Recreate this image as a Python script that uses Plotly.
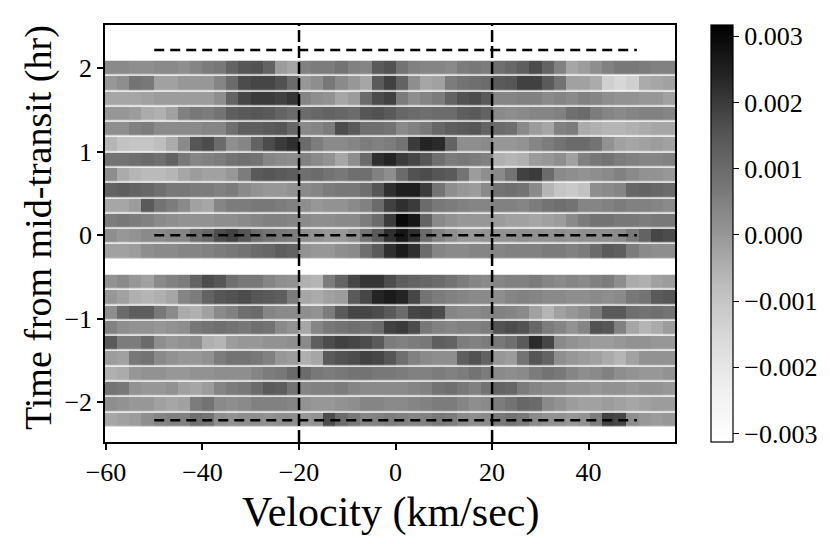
import numpy as np
import plotly.graph_objects as go

# ---- data (residual flux, units of 1e-4) ----
velocity_edges = np.linspace(-60.2, 57.9, 48)  # km/s bin edges (47 bins)
times_hr = [2.0, 1.817, 1.633, 1.45, 1.267, 1.083, 0.9, 0.717, 0.533, 0.35,
            0.167, -0.017, -0.2, -0.383, -0.567, -0.75, -0.933, -1.117, -1.3,
            -1.483, -1.667, -1.85, -2.033, -2.217]

r00 = [3,3,2,2,3,3,2,4,6,7,12,15,16,12,-1,-3,5,6,6,8,5,4,14,16,8,5,4,4,3,6,7,6,9,11,13,17,12,5,-3,-1,2,5,7,7,6,5,5]
r01 = [0,2,8,7,-2,-2,0,0,0,4,10,17,18,18,16,10,0,2,7,3,0,-3,14,19,12,2,-3,-2,6,8,9,10,14,15,19,19,14,8,-2,-2,-4,-13,-15,-13,-4,-3,-2]
r02 = [-3,-3,-3,-2,-1,-1,-1,-1,-1,2,12,18,20,20,19,21,4,2,1,-3,-1,10,17,19,6,2,4,6,12,16,17,14,4,4,5,5,3,4,3,5,4,2,1,1,0,0,-2]
r03 = [0,0,-1,-4,-5,-2,5,7,6,8,13,14,15,14,12,10,10,11,12,11,10,15,16,14,11,10,9,10,10,13,14,12,3,2,3,4,4,5,9,10,6,4,3,4,5,5,4]
r04 = [2,2,5,6,3,3,3,3,4,4,9,13,13,14,15,11,3,4,6,17,14,9,9,8,3,5,7,11,13,14,15,12,10,9,3,-1,-3,5,6,-4,-5,-6,-6,-5,-4,-3,-3]
r05 = [-6,-9,-10,-10,-8,-4,3,15,17,10,2,4,12,17,20,22,10,6,3,3,4,6,5,6,8,20,24,23,12,2,2,3,0,0,1,4,6,8,10,10,8,1,-2,-3,-2,-1,-2]
r06 = [8,8,9,10,9,12,7,4,5,6,8,9,8,4,3,2,5,3,1,-3,2,10,22,24,20,18,15,9,6,7,6,5,-5,-6,-5,-1,0,2,-2,5,7,8,6,5,4,4,5]
r07 = [2,-4,-6,-7,-7,-6,-3,-1,-2,-2,0,6,14,15,14,13,9,10,8,7,9,9,5,2,10,16,17,15,14,8,-1,2,3,8,19,20,10,3,2,1,2,3,5,3,1,1,0]
r08 = [12,13,12,11,9,7,7,6,6,5,6,3,1,0,0,1,3,4,6,7,7,9,15,22,25,25,20,8,2,0,-1,3,8,9,8,3,-6,-10,-11,-9,2,3,4,11,12,11,10]
r09 = [-3,-3,-1,14,8,6,3,-2,-3,4,6,6,7,7,6,5,2,0,1,1,3,5,10,19,22,20,10,7,6,5,4,4,5,5,4,6,8,9,8,4,4,5,6,5,5,4,3]
r10 = [6,7,6,5,3,2,1,1,1,2,2,3,4,5,5,4,3,2,2,3,3,6,10,20,30,27,12,3,1,0,0,0,-1,-2,-2,-3,-2,-1,3,6,8,8,7,7,6,7,7]
r11 = [2,0,1,3,3,4,4,9,11,17,19,15,10,8,7,6,2,1,0,0,2,8,14,22,27,22,10,5,2,0,0,1,1,1,2,1,1,2,1,2,2,2,3,7,12,18,17]
r12 = [-2,-2,-1,2,3,3,4,4,5,6,7,8,10,11,13,12,1,0,0,2,3,9,14,22,26,22,10,4,3,3,4,4,4,5,5,5,6,6,5,6,10,14,13,6,3,2,2]
r14 = [1,3,0,-2,3,5,6,12,17,15,9,7,7,4,2,1,-5,-6,6,12,18,21,21,17,13,12,11,10,8,6,4,3,4,5,5,6,4,3,4,3,5,6,2,-4,-5,-2,-1]
r15 = [0,-2,-5,-6,-5,-3,4,6,12,15,16,17,15,14,13,6,-3,-4,-2,-1,14,18,24,26,24,18,8,6,5,4,3,3,2,4,5,4,3,3,2,2,3,2,3,7,8,14,15]
r16 = [2,10,13,13,7,3,-4,-5,-2,3,5,9,10,4,3,3,2,1,6,14,18,18,17,14,10,18,19,17,4,3,3,4,5,4,3,-2,-6,-2,0,2,6,14,14,9,8,9,8]
r17 = [5,2,1,1,0,1,2,7,8,9,8,7,9,8,3,1,-3,4,7,8,9,8,10,19,20,17,7,5,4,5,5,6,16,17,16,11,6,4,1,4,16,15,5,-3,-6,-4,-1]
r18 = [14,6,6,10,2,0,1,2,-5,-6,-1,0,0,1,1,2,3,13,17,19,18,17,14,6,5,6,7,13,12,6,5,6,7,9,14,23,18,3,1,0,-1,-1,0,1,1,0,0]
r19 = [-1,-2,7,8,3,1,0,0,1,6,8,8,7,5,0,-1,-5,-3,14,16,17,19,18,15,9,5,3,2,2,13,16,12,0,-1,8,15,12,2,0,-1,-2,-4,-6,-2,1,1,1]
r20 = [-5,-4,0,1,1,0,0,1,1,2,2,2,4,6,7,10,10,7,6,7,8,8,7,7,6,5,5,6,5,6,8,6,3,2,3,6,8,7,4,2,3,5,2,1,0,0,1]
r21 = [8,7,1,0,0,1,-2,-3,-1,4,6,7,10,14,13,8,4,5,5,6,4,3,3,3,3,4,5,8,9,7,5,8,12,11,6,4,3,3,1,1,0,1,1,0,1,1,0]
r22 = [2,1,0,0,-2,-3,-2,6,8,3,2,3,5,5,5,4,1,0,0,1,2,4,4,3,3,4,5,6,6,4,2,3,6,8,11,10,3,1,-1,-2,-2,-1,-2,-3,-2,-1,-1]
r23 = [-3,-2,-1,2,4,5,5,9,8,2,1,2,2,1,2,2,0,1,17,10,7,4,5,6,5,4,5,7,6,3,2,3,7,8,7,3,1,1,0,1,6,19,18,2,0,-1,0]
gap_row = [None] * 47  # no exposure in this slot

rows_e4 = [r00, r01, r02, r03, r04, r05, r06, r07, r08, r09, r10, r11, r12,
           gap_row, r14, r15, r16, r17, r18, r19, r20, r21, r22, r23]
for r in rows_e4:
    assert len(r) == 47, len(r)
z = [[None if v is None else v * 1e-4 for v in r] for r in rows_e4]

cbar_ticks = [-0.003, -0.002, -0.001, 0.0, 0.001, 0.002, 0.003]
vlines_kms = [-20, 20]
hlines_hr = [2.22, 0.0, -2.22]
hline_span = [-50, 50]

greys = [[0, '#ffffff'], [0.125, '#f0f0f0'], [0.25, '#d9d9d9'],
         [0.375, '#bdbdbd'], [0.5, '#969696'], [0.625, '#737373'],
         [0.75, '#525252'], [0.875, '#252525'], [1, '#000000']]

FONT = 'Liberation Serif, Times New Roman, serif'

fig = go.Figure(go.Heatmap(
    x=velocity_edges, y=times_hr, z=z,
    colorscale=greys, zmin=-0.00313, zmax=0.00317,
    ygap=1.5, zsmooth=False, hoverongaps=False,
    colorbar=dict(
        thickness=22, len=1.0, lenmode='fraction', y=0.5, yanchor='middle',
        x=1.0626, xanchor='left', xpad=0, ypad=0,
        outlinewidth=1.2, outlinecolor='black',
        tickvals=cbar_ticks, tickformat='.3f',
        ticks='outside', ticklen=6, tickwidth=1.3, tickcolor='black',
        tickfont=dict(family=FONT, size=26, color='black'),
    ),
))

shapes = []
for xv in vlines_kms:
    shapes.append(dict(type='line', xref='x', yref='paper', x0=xv, x1=xv,
                       y0=0, y1=1, line=dict(color='black', width=2.5,
                                             dash='12px,4px')))
for yv in hlines_hr:
    shapes.append(dict(type='line', xref='x', yref='y', x0=hline_span[0],
                       x1=hline_span[1], y0=yv, y1=yv,
                       line=dict(color='black', width=2.5, dash='10px,6px')))

axis_common = dict(showline=True, mirror=True, linecolor='black',
                   linewidth=1.5, ticks='outside', ticklen=6, tickwidth=1.5,
                   tickcolor='black', showgrid=False, zeroline=False,
                   tickfont=dict(family=FONT, size=26, color='black'))

# page body adds an 8px margin, so the figure is 8px smaller than the window
fig.update_layout(
    width=822, height=536,
    margin=dict(l=97, r=155, t=17, b=102),
    paper_bgcolor='white', plot_bgcolor='white',
    font=dict(family=FONT, color='black'),
    xaxis=dict(range=[-60.2, 57.9], dtick=20, **axis_common),
    yaxis=dict(range=[-2.48, 2.52], dtick=1, **axis_common),
    shapes=shapes,
    annotations=[
        dict(text='Velocity (km/sec)', xref='paper', yref='paper',
             x=0.5, y=-0.169, xanchor='center', yanchor='middle',
             showarrow=False, font=dict(family=FONT, size=42, color='black')),
        dict(text='Time from mid-transit (hr)', xref='paper', yref='paper',
             x=-0.1175, y=0.513, xanchor='center', yanchor='middle',
             textangle=-90, showarrow=False,
             font=dict(family=FONT, size=38, color='black')),
    ],
)

fig.write_html('out.html')
